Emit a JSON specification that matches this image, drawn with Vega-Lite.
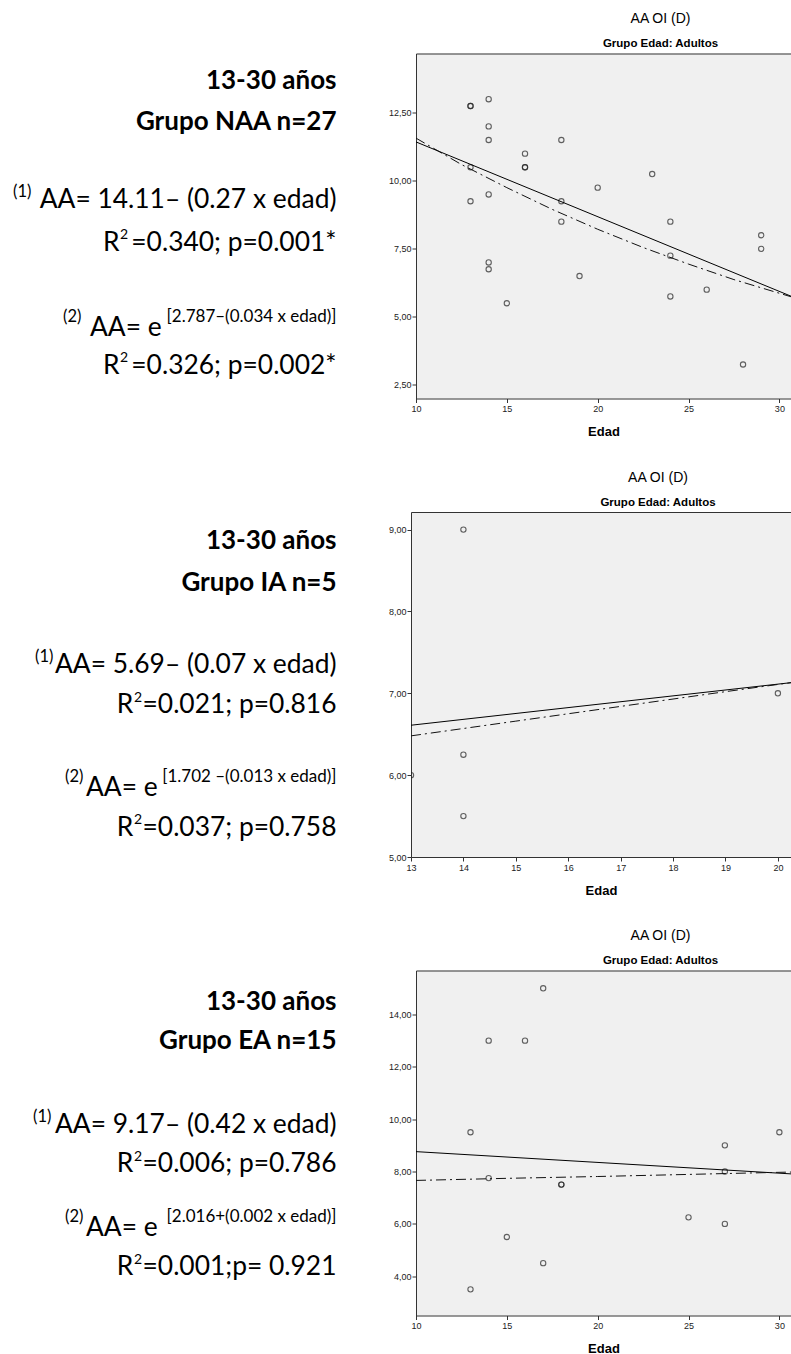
{
  "$schema": "https://vega.github.io/schema/vega-lite/v6.json",
  "background": "white",
  "padding": {"left": 0, "top": 11.5, "right": 0, "bottom": 0},
  "spacing": 31.5,
  "config": {
    "view": {"stroke": null},
    "axis": {"labelFont": "Liberation Sans", "labelFontSize": 9, "labelColor": "#222", "domainColor": "#333", "tickColor": "#333", "grid": false, "tickSize": 4, "labelPadding": 1, "labelFlush": false, "minExtent": 0, "titleFont": "Liberation Sans", "titleFontSize": 13, "titleFontWeight": "bold", "titleColor": "#000", "titlePadding": 12},
    "title": {"font": "Liberation Sans", "fontSize": 14, "fontWeight": "normal", "color": "#000", "subtitleFont": "Liberation Sans", "subtitleFontSize": 11.5, "subtitleFontWeight": "bold", "subtitleColor": "#000", "subtitlePadding": 12, "offset": 4, "anchor": "middle", "frame": "group"}
  },
  "datasets": {
    "pts": [
      {"g": 1, "edad": 13, "aa": 12.75}, {"g": 1, "edad": 13, "aa": 12.75}, {"g": 1, "edad": 14, "aa": 13.0}, {"g": 1, "edad": 14, "aa": 12.0}, {"g": 1, "edad": 14, "aa": 11.5}, {"g": 1, "edad": 16, "aa": 11.0}, {"g": 1, "edad": 16, "aa": 10.5}, {"g": 1, "edad": 16, "aa": 10.5}, {"g": 1, "edad": 18, "aa": 11.5}, {"g": 1, "edad": 13, "aa": 10.5}, {"g": 1, "edad": 23, "aa": 10.25}, {"g": 1, "edad": 20, "aa": 9.75}, {"g": 1, "edad": 14, "aa": 9.5}, {"g": 1, "edad": 13, "aa": 9.25}, {"g": 1, "edad": 18, "aa": 9.25}, {"g": 1, "edad": 18, "aa": 8.5}, {"g": 1, "edad": 24, "aa": 8.5}, {"g": 1, "edad": 29, "aa": 8.0}, {"g": 1, "edad": 29, "aa": 7.5}, {"g": 1, "edad": 24, "aa": 7.25}, {"g": 1, "edad": 14, "aa": 7.0}, {"g": 1, "edad": 14, "aa": 6.75}, {"g": 1, "edad": 19, "aa": 6.5}, {"g": 1, "edad": 26, "aa": 6.0}, {"g": 1, "edad": 24, "aa": 5.75}, {"g": 1, "edad": 15, "aa": 5.5}, {"g": 1, "edad": 28, "aa": 3.25},
      {"g": 2, "edad": 14, "aa": 9.0}, {"g": 2, "edad": 13, "aa": 6.0}, {"g": 2, "edad": 14, "aa": 6.25}, {"g": 2, "edad": 14, "aa": 5.5}, {"g": 2, "edad": 20, "aa": 7.0},
      {"g": 3, "edad": 17, "aa": 15.0}, {"g": 3, "edad": 14, "aa": 13.0}, {"g": 3, "edad": 16, "aa": 13.0}, {"g": 3, "edad": 13, "aa": 9.5}, {"g": 3, "edad": 30, "aa": 9.5}, {"g": 3, "edad": 27, "aa": 9.0}, {"g": 3, "edad": 27, "aa": 8.0}, {"g": 3, "edad": 14, "aa": 7.75}, {"g": 3, "edad": 18, "aa": 7.5}, {"g": 3, "edad": 18, "aa": 7.5}, {"g": 3, "edad": 25, "aa": 6.25}, {"g": 3, "edad": 27, "aa": 6.0}, {"g": 3, "edad": 15, "aa": 5.5}, {"g": 3, "edad": 17, "aa": 4.5}, {"g": 3, "edad": 13, "aa": 3.5}
    ],
    "fit": [
      {"g": 1, "m": "lin", "edad": 10, "aa": 11.43}, {"g": 1, "m": "lin", "edad": 30.64, "aa": 5.76},
      {"g": 1, "m": "exp", "edad": 10, "aa": 11.57}, {"g": 1, "m": "exp", "edad": 12.5, "aa": 10.6}, {"g": 1, "m": "exp", "edad": 15, "aa": 9.75}, {"g": 1, "m": "exp", "edad": 17.5, "aa": 8.95}, {"g": 1, "m": "exp", "edad": 20, "aa": 8.22}, {"g": 1, "m": "exp", "edad": 22.5, "aa": 7.55}, {"g": 1, "m": "exp", "edad": 25, "aa": 6.94}, {"g": 1, "m": "exp", "edad": 27.5, "aa": 6.37}, {"g": 1, "m": "exp", "edad": 30.64, "aa": 5.74},
      {"g": 2, "m": "lin", "edad": 13, "aa": 6.61}, {"g": 2, "m": "lin", "edad": 20.25, "aa": 7.13},
      {"g": 2, "m": "exp", "edad": 13, "aa": 6.48}, {"g": 2, "m": "exp", "edad": 15, "aa": 6.66}, {"g": 2, "m": "exp", "edad": 17, "aa": 6.84}, {"g": 2, "m": "exp", "edad": 19, "aa": 7.02}, {"g": 2, "m": "exp", "edad": 20.25, "aa": 7.13},
      {"g": 3, "m": "lin", "edad": 10, "aa": 8.76}, {"g": 3, "m": "lin", "edad": 30.64, "aa": 7.91},
      {"g": 3, "m": "exp", "edad": 10, "aa": 7.66}, {"g": 3, "m": "exp", "edad": 15, "aa": 7.74}, {"g": 3, "m": "exp", "edad": 20, "aa": 7.81}, {"g": 3, "m": "exp", "edad": 25, "aa": 7.89}, {"g": 3, "m": "exp", "edad": 30.64, "aa": 7.98}
    ],
    "txt": [
      {"g": 1, "k": "head", "x": 336.5, "y": 80, "t": "13-30 años"},
      {"g": 1, "k": "head", "x": 336.5, "y": 121.5, "t": "Grupo NAA n=27"},
      {"g": 1, "k": "supL", "x": 13, "y": 191, "t": "(1)"},
      {"g": 1, "k": "main", "x": 336.5, "y": 199, "t": "AA= 14.11– (0.27 x edad)"},
      {"g": 1, "k": "lead", "x": 103, "y": 242, "t": "R"},
      {"g": 1, "k": "sup2", "x": 120, "y": 234.5, "t": "2"},
      {"g": 1, "k": "main", "x": 336.5, "y": 242, "t": "=0.340; p=0.001*"},
      {"g": 1, "k": "supL", "x": 63, "y": 316, "t": "(2)"},
      {"g": 1, "k": "lead", "x": 90, "y": 327, "t": "AA= e"},
      {"g": 1, "k": "supR", "x": 336.5, "y": 316, "t": "[2.787–(0.034 x edad)]"},
      {"g": 1, "k": "lead", "x": 103, "y": 365, "t": "R"},
      {"g": 1, "k": "sup2", "x": 120, "y": 357.5, "t": "2"},
      {"g": 1, "k": "main", "x": 336.5, "y": 365, "t": "=0.326; p=0.002*"},
      {"g": 2, "k": "head", "x": 336.5, "y": 540, "t": "13-30 años"},
      {"g": 2, "k": "head", "x": 336.5, "y": 581.7, "t": "Grupo IA n=5"},
      {"g": 2, "k": "supL", "x": 35, "y": 656, "t": "(1)"},
      {"g": 2, "k": "main", "x": 336.5, "y": 664, "t": "AA= 5.69– (0.07 x edad)"},
      {"g": 2, "k": "lead", "x": 116.7, "y": 704, "t": "R"},
      {"g": 2, "k": "sup2", "x": 134, "y": 696.5, "t": "2"},
      {"g": 2, "k": "main", "x": 336.5, "y": 704, "t": "=0.021; p=0.816"},
      {"g": 2, "k": "supL", "x": 65, "y": 776, "t": "(2)"},
      {"g": 2, "k": "lead", "x": 86, "y": 787, "t": "AA= e"},
      {"g": 2, "k": "supR", "x": 336.5, "y": 776, "t": "[1.702 –(0.013 x edad)]"},
      {"g": 2, "k": "lead", "x": 116.7, "y": 826.5, "t": "R"},
      {"g": 2, "k": "sup2", "x": 134, "y": 819, "t": "2"},
      {"g": 2, "k": "main", "x": 336.5, "y": 826.5, "t": "=0.037; p=0.758"},
      {"g": 3, "k": "head", "x": 336.5, "y": 1001, "t": "13-30 años"},
      {"g": 3, "k": "head", "x": 336.5, "y": 1040, "t": "Grupo EA n=15"},
      {"g": 3, "k": "supL", "x": 33, "y": 1116, "t": "(1)"},
      {"g": 3, "k": "main", "x": 336.5, "y": 1124, "t": "AA= 9.17– (0.42 x edad)"},
      {"g": 3, "k": "lead", "x": 116.7, "y": 1163, "t": "R"},
      {"g": 3, "k": "sup2", "x": 134, "y": 1155.5, "t": "2"},
      {"g": 3, "k": "main", "x": 336.5, "y": 1163, "t": "=0.006; p=0.786"},
      {"g": 3, "k": "supL", "x": 65, "y": 1216, "t": "(2)"},
      {"g": 3, "k": "lead", "x": 86, "y": 1227, "t": "AA= e"},
      {"g": 3, "k": "supR", "x": 336.5, "y": 1216, "t": "[2.016+(0.002 x edad)]"},
      {"g": 3, "k": "lead", "x": 116.7, "y": 1266, "t": "R"},
      {"g": 3, "k": "sup2", "x": 134, "y": 1258.5, "t": "2"},
      {"g": 3, "k": "main", "x": 336.5, "y": 1266, "t": "=0.001;p= 0.921"}
    ]
  },
  "vconcat": [
    {
      "spacing": 48,
      "hconcat": [
        {
          "width": 340, "height": 345,
          "view": {"stroke": null},
          "data": {"name": "txt"},
          "transform": [{"filter": "datum.g === 1"}],
          "encoding": {
            "x": {"field": "x", "type": "quantitative", "scale": {"domain": [0, 340], "nice": false, "zero": false}, "axis": null},
            "y": {"field": "y", "type": "quantitative", "scale": {"domain": [52.7, 397.7], "nice": false, "zero": false, "reverse": true}, "axis": null},
            "text": {"field": "t", "type": "nominal"}
          },
          "layer": [
            {"transform": [{"filter": "datum.k === 'head'"}], "mark": {"type": "text", "align": "right", "baseline": "middle", "font": "Lato", "fontSize": 26, "fontWeight": "bold", "color": "#000"}},
            {"transform": [{"filter": "datum.k === 'main'"}], "mark": {"type": "text", "align": "right", "baseline": "middle", "font": "Lato", "fontSize": 26.4, "color": "#000"}},
            {"transform": [{"filter": "datum.k === 'lead'"}], "mark": {"type": "text", "align": "left", "baseline": "middle", "font": "Lato", "fontSize": 26.4, "color": "#000"}},
            {"transform": [{"filter": "datum.k === 'supL'"}], "mark": {"type": "text", "align": "left", "baseline": "middle", "font": "Lato", "fontSize": 16.5, "color": "#000"}},
            {"transform": [{"filter": "datum.k === 'supR'"}], "mark": {"type": "text", "align": "right", "baseline": "middle", "font": "Lato", "fontSize": 17, "color": "#000"}},
            {"transform": [{"filter": "datum.k === 'sup2'"}], "mark": {"type": "text", "align": "left", "baseline": "middle", "font": "Lato", "fontSize": 14, "color": "#000"}}
          ]
        },
        {
          "width": 375, "height": 345,
          "view": {"fill": "#f0f0f0", "stroke": null},
          "title": {"text": "AA OI (D)", "subtitle": "Grupo Edad: Adultos", "dx": 57},
          "layer": [
            {"data": {"name": "pts"}, "transform": [{"filter": "datum.g === 1"}], "mark": {"type": "point", "shape": "circle", "filled": false, "color": "#222", "size": 28, "strokeWidth": 1.1, "clip": true},
             "encoding": {
               "x": {"field": "edad", "type": "quantitative", "scale": {"domain": [10, 30.64], "nice": false, "zero": false}, "axis": {"values": [10, 15, 20, 25, 30], "title": "Edad", "format": "d", "labelPadding": 2}},
               "y": {"field": "aa", "type": "quantitative", "scale": {"domain": [2, 14.68], "nice": false, "zero": false}, "axis": {"values": [2.5, 5, 7.5, 10, 12.5], "title": null, "labelExpr": "replace(format(datum.value, '.2f'), '.', ',')"}}}},
            {"data": {"name": "fit"}, "transform": [{"filter": "datum.g === 1 && datum.m === 'lin'"}], "mark": {"type": "line", "color": "#000", "strokeWidth": 1, "clip": true},
             "encoding": {"x": {"field": "edad", "type": "quantitative", "axis": null}, "y": {"field": "aa", "type": "quantitative"}}},
            {"data": {"name": "fit"}, "transform": [{"filter": "datum.g === 1 && datum.m === 'exp'"}], "mark": {"type": "line", "color": "#111", "strokeWidth": 1, "strokeDash": [10, 4, 2, 4], "clip": true},
             "encoding": {"x": {"field": "edad", "type": "quantitative", "axis": null}, "y": {"field": "aa", "type": "quantitative"}}},
            {"data": {"name": "fit"}, "transform": [{"filter": "datum.g === 1 && datum.m === 'lin'"}], "mark": {"type": "line", "opacity": 0},
             "encoding": {"x": {"field": "edad", "type": "quantitative", "axis": {"orient": "top", "labels": false, "ticks": false, "title": null, "domain": true}}, "y": {"field": "aa", "type": "quantitative"}}}
          ],
          "resolve": {"axis": {"x": "independent"}}
        }
      ]
    },
    {
      "spacing": 48,
      "hconcat": [
        {
          "width": 340, "height": 345,
          "view": {"stroke": null},
          "data": {"name": "txt"},
          "transform": [{"filter": "datum.g === 2"}],
          "encoding": {
            "x": {"field": "x", "type": "quantitative", "scale": {"domain": [0, 340], "nice": false, "zero": false}, "axis": null},
            "y": {"field": "y", "type": "quantitative", "scale": {"domain": [510.7, 855.7], "nice": false, "zero": false, "reverse": true}, "axis": null},
            "text": {"field": "t", "type": "nominal"}
          },
          "layer": [
            {"transform": [{"filter": "datum.k === 'head'"}], "mark": {"type": "text", "align": "right", "baseline": "middle", "font": "Lato", "fontSize": 26, "fontWeight": "bold", "color": "#000"}},
            {"transform": [{"filter": "datum.k === 'main'"}], "mark": {"type": "text", "align": "right", "baseline": "middle", "font": "Lato", "fontSize": 26.4, "color": "#000"}},
            {"transform": [{"filter": "datum.k === 'lead'"}], "mark": {"type": "text", "align": "left", "baseline": "middle", "font": "Lato", "fontSize": 26.4, "color": "#000"}},
            {"transform": [{"filter": "datum.k === 'supL'"}], "mark": {"type": "text", "align": "left", "baseline": "middle", "font": "Lato", "fontSize": 16.5, "color": "#000"}},
            {"transform": [{"filter": "datum.k === 'supR'"}], "mark": {"type": "text", "align": "right", "baseline": "middle", "font": "Lato", "fontSize": 17, "color": "#000"}},
            {"transform": [{"filter": "datum.k === 'sup2'"}], "mark": {"type": "text", "align": "left", "baseline": "middle", "font": "Lato", "fontSize": 14, "color": "#000"}}
          ]
        },
        {
          "width": 380, "height": 345,
          "view": {"fill": "#f0f0f0", "stroke": null},
          "title": {"text": "AA OI (D)", "subtitle": "Grupo Edad: Adultos", "dx": 57},
          "layer": [
            {"data": {"name": "pts"}, "transform": [{"filter": "datum.g === 2"}], "mark": {"type": "point", "shape": "circle", "filled": false, "color": "#222", "size": 28, "strokeWidth": 1.1, "clip": true},
             "encoding": {
               "x": {"field": "edad", "type": "quantitative", "scale": {"domain": [13, 20.25], "nice": false, "zero": false}, "axis": {"values": [13, 14, 15, 16, 17, 18, 19, 20], "title": "Edad", "format": "d", "labelPadding": 2}},
               "y": {"field": "aa", "type": "quantitative", "scale": {"domain": [5, 9.215], "nice": false, "zero": false}, "axis": {"values": [5, 6, 7, 8, 9], "title": null, "labelExpr": "replace(format(datum.value, '.2f'), '.', ',')"}}}},
            {"data": {"name": "fit"}, "transform": [{"filter": "datum.g === 2 && datum.m === 'lin'"}], "mark": {"type": "line", "color": "#000", "strokeWidth": 1, "clip": true},
             "encoding": {"x": {"field": "edad", "type": "quantitative", "axis": null}, "y": {"field": "aa", "type": "quantitative"}}},
            {"data": {"name": "fit"}, "transform": [{"filter": "datum.g === 2 && datum.m === 'exp'"}], "mark": {"type": "line", "color": "#111", "strokeWidth": 1, "strokeDash": [10, 4, 2, 4], "clip": true},
             "encoding": {"x": {"field": "edad", "type": "quantitative", "axis": null}, "y": {"field": "aa", "type": "quantitative"}}},
            {"data": {"name": "fit"}, "transform": [{"filter": "datum.g === 2 && datum.m === 'lin'"}], "mark": {"type": "line", "opacity": 0},
             "encoding": {"x": {"field": "edad", "type": "quantitative", "axis": {"orient": "top", "labels": false, "ticks": false, "title": null, "domain": true}}, "y": {"field": "aa", "type": "quantitative"}}}
          ],
          "resolve": {"axis": {"x": "independent"}}
        }
      ]
    },
    {
      "spacing": 48,
      "hconcat": [
        {
          "width": 340, "height": 345,
          "view": {"stroke": null},
          "data": {"name": "txt"},
          "transform": [{"filter": "datum.g === 3"}],
          "encoding": {
            "x": {"field": "x", "type": "quantitative", "scale": {"domain": [0, 340], "nice": false, "zero": false}, "axis": null},
            "y": {"field": "y", "type": "quantitative", "scale": {"domain": [969.3, 1314.3], "nice": false, "zero": false, "reverse": true}, "axis": null},
            "text": {"field": "t", "type": "nominal"}
          },
          "layer": [
            {"transform": [{"filter": "datum.k === 'head'"}], "mark": {"type": "text", "align": "right", "baseline": "middle", "font": "Lato", "fontSize": 26, "fontWeight": "bold", "color": "#000"}},
            {"transform": [{"filter": "datum.k === 'main'"}], "mark": {"type": "text", "align": "right", "baseline": "middle", "font": "Lato", "fontSize": 26.4, "color": "#000"}},
            {"transform": [{"filter": "datum.k === 'lead'"}], "mark": {"type": "text", "align": "left", "baseline": "middle", "font": "Lato", "fontSize": 26.4, "color": "#000"}},
            {"transform": [{"filter": "datum.k === 'supL'"}], "mark": {"type": "text", "align": "left", "baseline": "middle", "font": "Lato", "fontSize": 16.5, "color": "#000"}},
            {"transform": [{"filter": "datum.k === 'supR'"}], "mark": {"type": "text", "align": "right", "baseline": "middle", "font": "Lato", "fontSize": 17, "color": "#000"}},
            {"transform": [{"filter": "datum.k === 'sup2'"}], "mark": {"type": "text", "align": "left", "baseline": "middle", "font": "Lato", "fontSize": 14, "color": "#000"}}
          ]
        },
        {
          "width": 375, "height": 345,
          "view": {"fill": "#f0f0f0", "stroke": null},
          "title": {"text": "AA OI (D)", "subtitle": "Grupo Edad: Adultos", "dx": 57},
          "layer": [
            {"data": {"name": "pts"}, "transform": [{"filter": "datum.g === 3"}], "mark": {"type": "point", "shape": "circle", "filled": false, "color": "#222", "size": 28, "strokeWidth": 1.1, "clip": true},
             "encoding": {
               "x": {"field": "edad", "type": "quantitative", "scale": {"domain": [10, 30.64], "nice": false, "zero": false}, "axis": {"values": [10, 15, 20, 25, 30], "title": "Edad", "format": "d", "labelPadding": 2}},
               "y": {"field": "aa", "type": "quantitative", "scale": {"domain": [2.5, 15.68], "nice": false, "zero": false}, "axis": {"values": [4, 6, 8, 10, 12, 14], "title": null, "labelExpr": "replace(format(datum.value, '.2f'), '.', ',')"}}}},
            {"data": {"name": "fit"}, "transform": [{"filter": "datum.g === 3 && datum.m === 'lin'"}], "mark": {"type": "line", "color": "#000", "strokeWidth": 1, "clip": true},
             "encoding": {"x": {"field": "edad", "type": "quantitative", "axis": null}, "y": {"field": "aa", "type": "quantitative"}}},
            {"data": {"name": "fit"}, "transform": [{"filter": "datum.g === 3 && datum.m === 'exp'"}], "mark": {"type": "line", "color": "#111", "strokeWidth": 1, "strokeDash": [10, 4, 2, 4], "clip": true},
             "encoding": {"x": {"field": "edad", "type": "quantitative", "axis": null}, "y": {"field": "aa", "type": "quantitative"}}},
            {"data": {"name": "fit"}, "transform": [{"filter": "datum.g === 3 && datum.m === 'lin'"}], "mark": {"type": "line", "opacity": 0},
             "encoding": {"x": {"field": "edad", "type": "quantitative", "axis": {"orient": "top", "labels": false, "ticks": false, "title": null, "domain": true}}, "y": {"field": "aa", "type": "quantitative"}}}
          ],
          "resolve": {"axis": {"x": "independent"}}
        }
      ]
    }
  ]
}
